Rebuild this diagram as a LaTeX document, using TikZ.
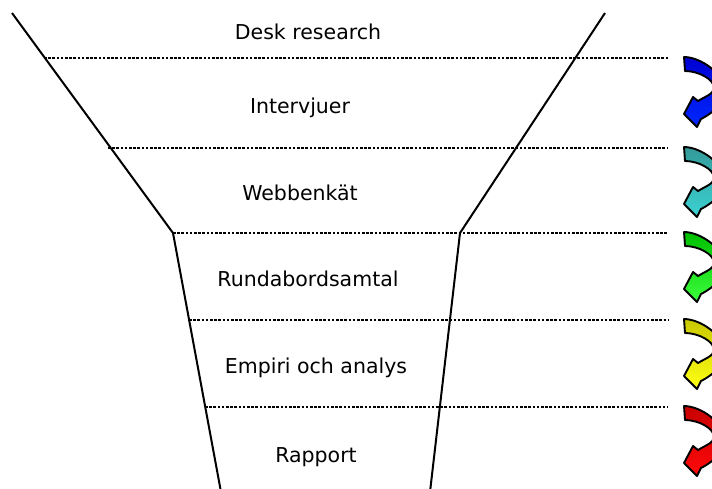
\documentclass[tikz,border=0pt]{standalone}
\usepackage{fontspec}
\setmainfont{DejaVu Sans}
\definecolor{blueA}{RGB}{0,0,210}
\definecolor{blueB}{RGB}{0,40,255}
\definecolor{tealA}{RGB}{51,153,153}
\definecolor{tealB}{RGB}{60,210,210}
\definecolor{greenA}{RGB}{0,190,0}
\definecolor{greenB}{RGB}{60,255,60}
\definecolor{yellowA}{RGB}{200,200,0}
\definecolor{yellowB}{RGB}{255,255,20}
\definecolor{redA}{RGB}{200,0,0}
\definecolor{redB}{RGB}{255,10,10}
\begin{document}
\begin{tikzpicture}
  [x=1pt, y=-1pt,
  funnel/.style={black, line width=2pt},
  level/.style={black, line width=2.8pt, dash pattern=on 2.5pt off 1.7pt},
  stage/.style={font=\fontsize{20.5}{24}\selectfont, inner sep=0pt},
  turn/.style={draw=black, line width=1.9pt, line join=round}]

  \useasboundingbox (0,0) rectangle (712,488);
  \clip (0,0) rectangle (712,488);

  % funnel corners
  \coordinate (lt) at (12,13);
  \coordinate (lm) at (173,233);
  \coordinate (lb) at (221,492);
  \coordinate (rt) at (605,13);
  \coordinate (rm) at (460,233);
  \coordinate (rb) at (430,492);

  % dotted levels
  \coordinate (a1) at (44,58);   \coordinate (b1) at (668,58);
  \coordinate (a2) at (108,148); \coordinate (b2) at (668,148);
  \coordinate (a3) at (173,233); \coordinate (b3) at (668,233);
  \coordinate (a4) at (189,320); \coordinate (b4) at (668,320);
  \coordinate (a5) at (205,407); \coordinate (b5) at (668,407);

  \node[stage] (desk) at (308,32) {Desk research};
  \node[stage] (intervju) at (300,108) {Intervjuer};
  \node[stage] (webb) at (300,193) {Webbenkät};
  \node[stage] (runda) at (308,279) {Rundabordsamtal};
  \node[stage] (empiri) at (316,368) {Empiri och analys};
  \node[stage] (rapport) at (316,457) {Rapport};

  % funnel
  \draw[funnel] (lt) -- (lm) -- (lb);
  \draw[funnel] (rt) -- (rm) -- (rb);

  \draw[level] (a1) -- (b1);
  \draw[level] (a2) -- (b2);
  \draw[level] (a3) -- (b3);
  \draw[level] (a4) -- (b4);
  \draw[level] (a5) -- (b5);

  % curved arrows at the right edge
  \foreach \y/\dark/\light in {57/blueA/blueB, 147/tealA/tealB, 232/greenA/greenB,
                               319/yellowA/yellowB, 406/redA/redB}
    \path[turn, shift={(684,\y)}, top color=\dark, bottom color=\light]
      (0,0) .. controls (16,0) and (40,16) .. (40,33)
      .. controls (40,43) and (33,54) .. (17,62)
      -- (13,70) -- (0,57) -- (9,40) -- (14,44)
      .. controls (20,40) and (30,37) .. (30,31)
      .. controls (30,22) and (14,14) .. (1,14) -- cycle;

\end{tikzpicture}
\end{document}
